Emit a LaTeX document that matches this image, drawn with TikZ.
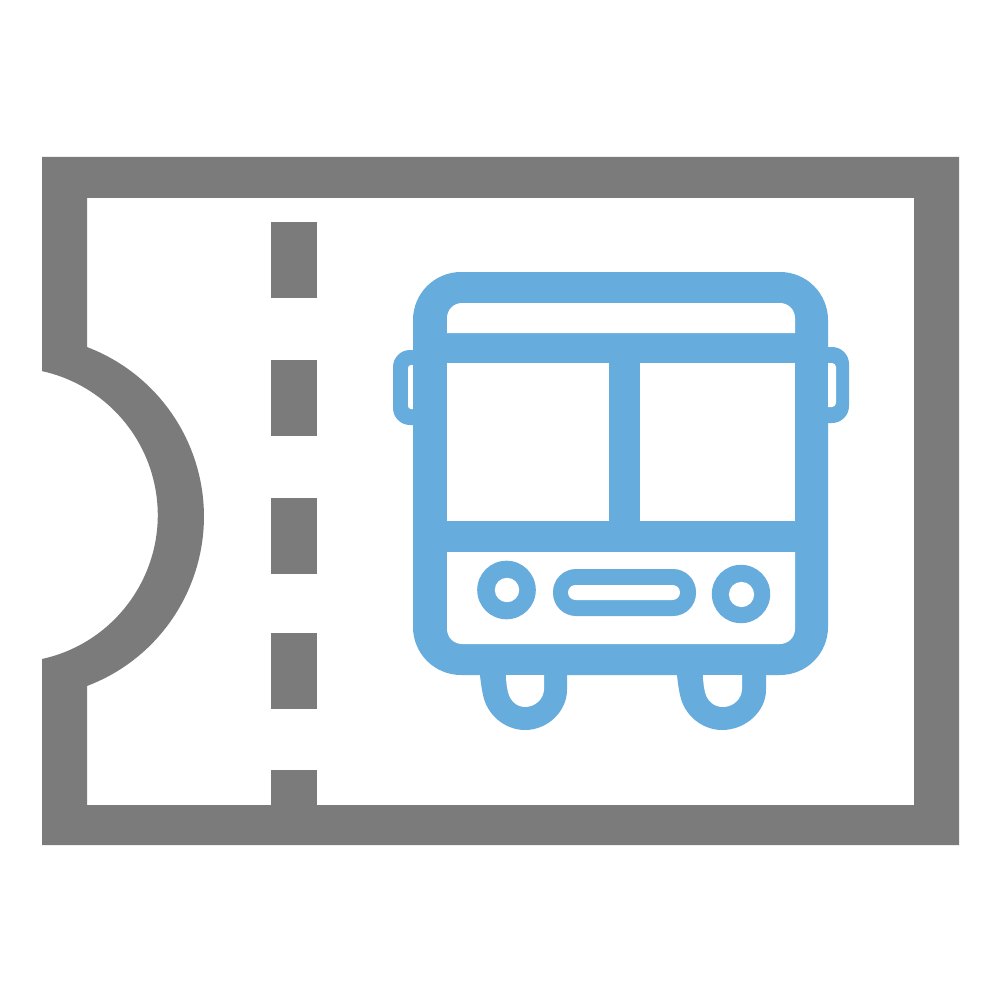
\documentclass[tikz,border=0pt]{standalone}
\definecolor{ticketgray}{HTML}{7B7B7B}
\definecolor{busblue}{HTML}{66ACDC}
\tikzset{
  ticketfill/.style={fill=ticketgray,draw=none},
  busfill/.style={fill=busblue,draw=none},
  holefill/.style={fill=white,draw=none}
}
\begin{document}
\begin{tikzpicture}[x=1pt,y=1pt,yscale=-1]
\useasboundingbox (0,0) rectangle (1000,1000);
\fill[white] (0,0) rectangle (1000,1000);
% ticket outline
\path[ticketfill,even odd rule]
  (42,157) -- (959,157) -- (959,845) -- (42,845) -- (42,659)
  arc[start angle=77.6,end angle=-77.6,radius=147.4pt] -- cycle
  (87,198) -- (914,198) -- (914,805) -- (87,805) -- (87,686)
  arc[start angle=69.2,end angle=-69.2,radius=181.3pt] -- cycle;
% perforation
\path[ticketfill] (271,222) rectangle (317,298);
\path[ticketfill] (271,360) rectangle (317,436);
\path[ticketfill] (271,498) rectangle (317,574);
\path[ticketfill] (271,633) rectangle (317,709);
\path[ticketfill] (271,770) rectangle (317,810);
% mirrors
\path[busfill,rounded corners=17pt] (393,350) rectangle (440,425);
\path[busfill,rounded corners=17pt] (800,347) rectangle (849,423);
% wheels
\path[busfill] (480,670) -- (480,675) .. controls (481,685) and (482,690) .. (483,695)
  .. controls (487,715) and (505,730) .. (525,730)
  .. controls (548,730) and (567,711) .. (567,690) -- (567,670) -- cycle;
\path[busfill] (677,670) -- (677,675) .. controls (678,685) and (679,690) .. (680,695)
  .. controls (684,715) and (702,730) .. (722,730)
  .. controls (746,730) and (766,711) .. (766,690) -- (766,670) -- cycle;
% body
\path[busfill,rounded corners=48pt] (413,272) rectangle (828,675);
% top strip
\path[holefill] (447,333) -- (447,318) arc[start angle=180,end angle=270,radius=15pt]
  -- (780,303) arc[start angle=270,end angle=360,radius=15pt] -- (795,333) -- cycle;
% windows
\path[holefill] (447,363) rectangle (609,521);
\path[holefill] (640,363) rectangle (795,521);
% lower panel
\path[holefill] (447,552) -- (795,552) -- (795,629)
  arc[start angle=0,end angle=90,radius=15pt] -- (462,644)
  arc[start angle=90,end angle=180,radius=15pt] -- cycle;
% headlights
\path[busfill] (506.5,590) circle[radius=29.3pt];
\path[holefill] (507,590) circle[radius=12.2pt];
\path[busfill] (741,594) circle[radius=29.2pt];
\path[holefill] (741.5,594.5) circle[radius=12.6pt];
% grille
\path[busfill,rounded corners=23pt] (553,569) rectangle (696,616);
\path[holefill,rounded corners=7.5pt] (568,585) rectangle (680,600);
% mirror slits
\path[holefill,rounded corners=3pt] (408,365) -- (408,409) -- (416,409) -- (416,365) -- cycle;
\path[busfill] (413,360) rectangle (420,412);
\path[holefill,rounded corners=4pt] (820,363) -- (836,363) -- (836,407) -- (820,407) -- cycle;
\path[busfill] (818,360) rectangle (828,410);
% wheel openings
\path[holefill] (506,675) .. controls (506,682) and (507,688) .. (508,692)
  .. controls (510,701) and (517,707) .. (525,707)
  .. controls (535,707) and (544,699) .. (544,689) -- (544,675) -- cycle;
\path[holefill] (703,675) .. controls (703,682) and (704,688) .. (705,692)
  .. controls (707,701) and (714,707) .. (723,707)
  .. controls (733,707) and (742,699) .. (742,689) -- (742,675) -- cycle;
\end{tikzpicture}
\end{document}
